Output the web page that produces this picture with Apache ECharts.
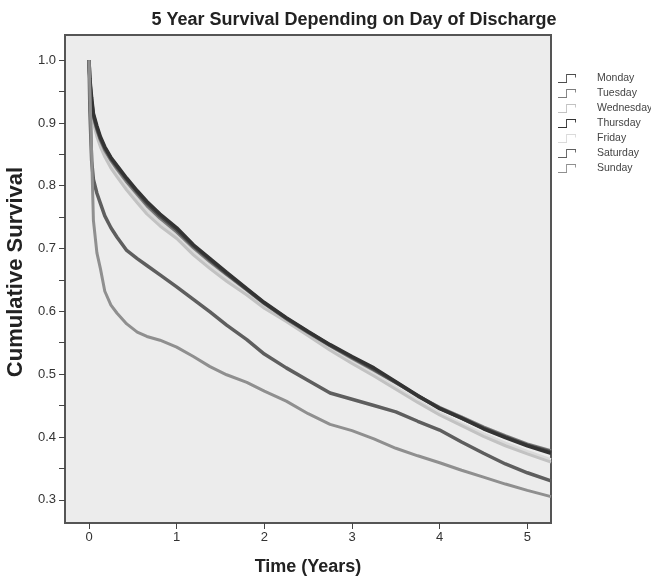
<!DOCTYPE html>
<html>
<head>
<meta charset="UTF-8">
<title>5 Year Survival Depending on Day of Discharge</title>
<script src="https://cdn.jsdelivr.net/npm/echarts@6/dist/echarts.min.js"></script>
<style>
    body { margin: 0; background: #ffffff; }
    #chart { width: 651px; height: 577px; }
</style>
</head>
<body>
<div id="chart"></div>
<script>
// time points (years) shared by every curve
var timeYears = [0, 0.01, 0.03, 0.05, 0.09, 0.13, 0.18, 0.25, 0.32, 0.43, 0.55, 0.66, 0.81, 1.0,
    1.19, 1.38, 1.57, 1.8, 2.0, 2.25, 2.5, 2.75, 3.0, 3.25, 3.5, 3.75, 4.0, 4.25, 4.5, 4.75, 5.0, 5.27];

var monday    = [1.0, 0.965, 0.935, 0.912, 0.892, 0.875, 0.86, 0.843, 0.83, 0.81, 0.79, 0.772, 0.752, 0.73,
    0.704, 0.682, 0.66, 0.635, 0.613, 0.589, 0.567, 0.546, 0.527, 0.508, 0.487, 0.465, 0.446, 0.43, 0.414, 0.4, 0.387, 0.376];
var tuesday   = [1.0, 0.96, 0.93, 0.908, 0.888, 0.872, 0.856, 0.84, 0.826, 0.806, 0.786, 0.768, 0.748, 0.726,
    0.701, 0.679, 0.658, 0.634, 0.612, 0.588, 0.566, 0.545, 0.525, 0.506, 0.486, 0.466, 0.447, 0.432, 0.416, 0.402, 0.389, 0.378];
var wednesday = [1.0, 0.955, 0.92, 0.9, 0.878, 0.862, 0.846, 0.828, 0.814, 0.793, 0.773, 0.755, 0.736, 0.716,
    0.69, 0.668, 0.648, 0.626, 0.605, 0.584, 0.561, 0.538, 0.517, 0.497, 0.476, 0.455, 0.435, 0.418, 0.401, 0.386, 0.373, 0.36];
var thursday  = [1.0, 0.97, 0.94, 0.915, 0.895, 0.878, 0.862, 0.845, 0.832, 0.812, 0.792, 0.775, 0.755, 0.733,
    0.706, 0.684, 0.662, 0.636, 0.614, 0.59, 0.568, 0.547, 0.528, 0.51, 0.488, 0.466, 0.445, 0.43, 0.413, 0.399, 0.386, 0.374];
var friday    = [1.0, 0.958, 0.925, 0.903, 0.882, 0.866, 0.85, 0.833, 0.819, 0.799, 0.779, 0.761, 0.742, 0.721,
    0.695, 0.673, 0.652, 0.629, 0.608, 0.586, 0.564, 0.541, 0.52, 0.5, 0.479, 0.458, 0.438, 0.421, 0.405, 0.39, 0.377, 0.364];
var saturday  = [1.0, 0.92, 0.84, 0.81, 0.788, 0.772, 0.752, 0.733, 0.718, 0.697, 0.684, 0.673, 0.658, 0.639,
    0.619, 0.599, 0.578, 0.555, 0.532, 0.51, 0.49, 0.47, 0.46, 0.45, 0.44, 0.425, 0.411, 0.392, 0.374, 0.357, 0.343, 0.33];
var sunday    = [1.0, 0.95, 0.85, 0.745, 0.693, 0.668, 0.632, 0.61, 0.597, 0.58, 0.567, 0.56, 0.554, 0.543,
    0.528, 0.512, 0.499, 0.487, 0.473, 0.457, 0.437, 0.42, 0.41, 0.397, 0.382, 0.37, 0.359, 0.347, 0.336, 0.325, 0.315, 0.305];

var dayNames = ['Monday', 'Tuesday', 'Wednesday', 'Thursday', 'Friday', 'Saturday', 'Sunday'];
var dayValues = [monday, tuesday, wednesday, thursday, friday, saturday, sunday];
var dayColors = ['#4d4d4d', '#7c7c7c', '#c2c2c2', '#333333', '#dadada', '#5e5e5e', '#8f8f8f'];
var dayWidths = [3.5, 3, 3, 3.5, 3, 3.5, 3];
// draw order: light ones first so the dark band sits on top
var drawOrder = [4, 2, 1, 0, 3, 5, 6];

var xTicks = [0, 1, 2, 3, 4, 5];
var yTicks = [0.3, 0.4, 0.5, 0.6, 0.7, 0.8, 0.9, 1.0];
var yAllTicks = [0.3, 0.35, 0.4, 0.45, 0.5, 0.55, 0.6, 0.65, 0.7, 0.75, 0.8, 0.85, 0.9, 0.95, 1.0];

// step shaped legend icon (drawn as a thin filled outline)
var stepIcon = 'path://M0,9 L9,9 L9,0 L20,0 L20,4 L19,4 L19,1 L10,1 L10,10 L0,10 Z';

var font = '"Liberation Sans", Arial, sans-serif';

var series = drawOrder.map(function (i) {
    return {
        name: dayNames[i],
        type: 'line',
        showSymbol: false,
        silent: true,
        data: timeYears.map(function (t, k) { return [t, dayValues[i][k]]; }),
        lineStyle: { color: dayColors[i], width: dayWidths[i] },
        itemStyle: { color: dayColors[i] }
    };
});

var chart = echarts.init(document.getElementById('chart'));
chart.setOption({
    animation: false,
    backgroundColor: '#ffffff',
    title: {
        text: '5 Year Survival Depending on Day of Discharge',
        left: 349,
        top: 6,
        textAlign: 'center',
        textStyle: { fontFamily: font, fontSize: 18, fontWeight: 'bold', color: '#222' }
    },
    legend: {
        data: dayNames,
        orient: 'vertical',
        left: 553,
        top: 68,
        itemWidth: 20,
        itemHeight: 9,
        itemGap: 4,
        icon: stepIcon,
        textStyle: { fontFamily: font, fontSize: 10.5, color: '#444', padding: [0, 0, 0, 15] },
        selectedMode: false
    },
    grid: {
        left: 65, right: 100, top: 35, bottom: 54,
        outerBoundsMode: 'none',
        show: true,
        backgroundColor: '#ececec',
        borderColor: '#555',
        borderWidth: 2
    },
    xAxis: {
        type: 'value',
        min: -0.274,
        max: 5.27,
        name: 'Time (Years)',
        nameLocation: 'middle',
        nameGap: 35,
        nameTextStyle: { fontFamily: font, fontSize: 18, fontWeight: 'bold', color: '#222' },
        axisLine: { show: false, onZero: false },
        splitLine: { show: false },
        axisTick: { show: true, length: 6, lineStyle: { color: '#444' }, customValues: xTicks },
        axisLabel: { fontFamily: font, fontSize: 13, color: '#333', margin: 8, customValues: xTicks }
    },
    yAxis: {
        type: 'value',
        min: 0.263,
        max: 1.04,
        name: 'Cumulative Survival',
        nameLocation: 'middle',
        nameGap: 34,
        nameTextStyle: { fontFamily: font, fontSize: 22, fontWeight: 'bold', color: '#222', padding: [0, 0, 0, 14] },
        axisLine: { show: false, onZero: false },
        splitLine: { show: false },
        axisTick: { show: true, length: 6, lineStyle: { color: '#444' }, customValues: yAllTicks },
        axisLabel: {
            fontFamily: font, fontSize: 13, color: '#333', margin: 9,
            customValues: yTicks,
            formatter: function (v) { return v.toFixed(1); }
        }
    },
    series: series
});
</script>
</body>
</html>
